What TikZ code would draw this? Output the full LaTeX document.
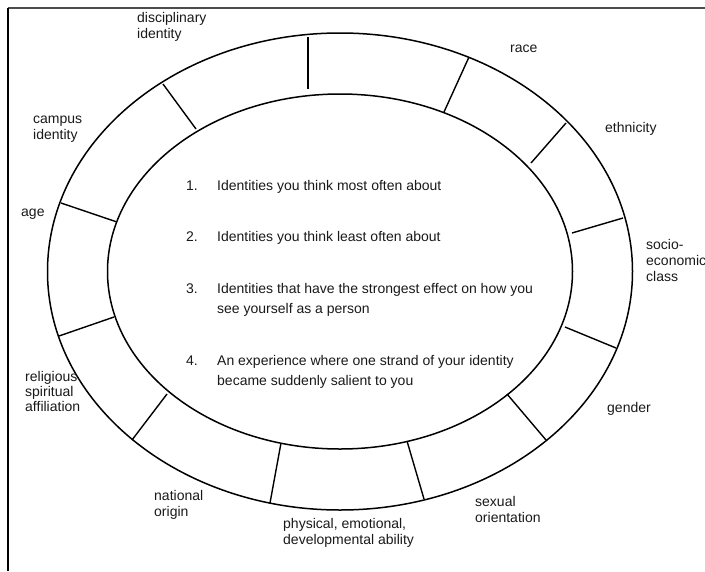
\documentclass[tikz,border=0pt]{standalone}
\usepackage{fontspec}
\setmainfont{Liberation Sans}
\begin{document}
\begin{tikzpicture}[x=1pt,y=-1pt,
  ring/.style={line width=1.5pt},
  spoke/.style={line width=1.4pt},
  frametop/.style={line width=2pt, draw=black!70},
  frameside/.style={line width=1.2pt, draw=black},
  % multi-line nodes sit on the baseline of their last line
  lbl/.style={anchor=base west, inner sep=0pt, align=left,
    font=\fontsize{14}{16}\selectfont, text=black!90},
  item/.style={anchor=base west, inner sep=0pt, align=left,
    font=\fontsize{14}{20}\selectfont, text=black!90}]
\useasboundingbox (0,0) rectangle (705,571);

% frame
\coordinate (ftl) at (8,7.5);
\coordinate (ftr) at (705,7.5);
\coordinate (fbl) at (8,571);
\draw[frametop] (ftl) -- (ftr);
\draw[frameside] (ftl) -- (fbl);

% the two rings
\coordinate (c) at (340,271.5);
\draw[ring] (c) ellipse [x radius=292.5, y radius=238.5];
\draw[ring] (c) ellipse [x radius=232.5, y radius=177.5];

% spokes dividing the outer band
\foreach \n/\ox/\oy/\ix/\iy in {
  1/308/37/308/89,
  2/469/57/444/112,
  3/566/123/531/163,
  4/623/218/572/233,
  5/616/348/565/327,
  6/546/440/507/394,
  7/424/499/407/441,
  8/270/503/281/443,
  9/132/440/167/394,
  10/59/336/114/317,
  11/61/203/117/222,
  12/163/84/196/129}{
  \coordinate (so\n) at (\ox,\oy);
  \coordinate (si\n) at (\ix,\iy);
  \draw[spoke] (so\n) -- (si\n);
}

% identity labels
\node[lbl] (disc) at (137,38) {disciplinary\\identity};
\node[lbl] (race) at (510,52) {race};
\node[lbl] (eth) at (605,132) {ethnicity};
\node[lbl] (ses) at (646,281) {socio-\\economic\\class};
\node[lbl] (gen) at (607,412) {gender};
\node[lbl] (sex) at (475,522) {sexual\\orientation};
\node[lbl] (abil) at (283,544) {physical, emotional,\\developmental ability};
\node[lbl] (nat) at (154,516) {national\\origin};
\node[lbl, font=\fontsize{14}{15}\selectfont] (rel) at (25,411) {religious\\spiritual\\affiliation};
\node[lbl] (age) at (21,216) {age};
\node[lbl] (camp) at (33,139) {campus\\identity};

% numbered prompts
\node[item] (n1) at (186,190) {1.};
\node[item] (t1) at (217,190) {Identities you think most often about};
\node[item] (n2) at (186,241) {2.};
\node[item] (t2) at (217,241) {Identities you think least often about};
\node[item] (n3) at (186,293) {3.};
\node[item] (t3) at (217,313) {Identities that have the strongest effect on how you\\see yourself as a person};
\node[item] (n4) at (186,365) {4.};
\node[item] (t4) at (217,385) {An experience where one strand of your identity\\became suddenly salient to you};
\end{tikzpicture}
\end{document}
